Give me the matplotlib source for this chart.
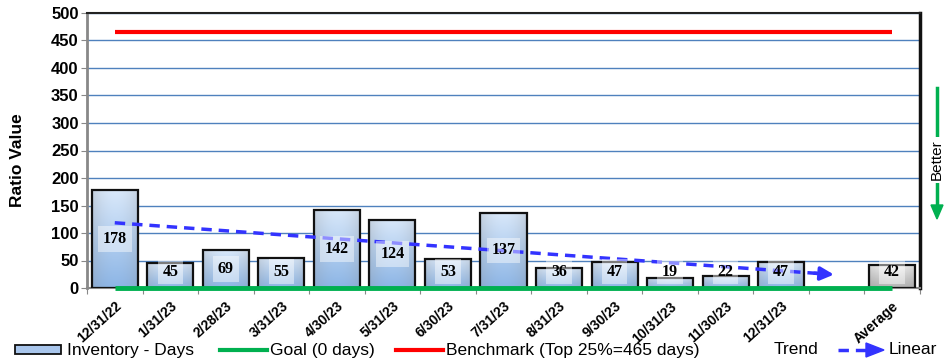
import numpy as np
import matplotlib.pyplot as plt
from matplotlib.patches import Rectangle
from matplotlib.lines import Line2D

# данные
dates = ['12/31/22', '1/31/23', '2/28/23', '3/31/23', '4/30/23', '5/31/23', '6/30/23',
         '7/31/23', '8/31/23', '9/30/23', '10/31/23', '11/30/23', '12/31/23']
days = [178, 45, 69, 55, 142, 124, 53, 137, 36, 47, 19, 22, 47]
average = 42
goal = 0
benchmark = 465
labels = dates + ['', 'Average']

plt.rcParams['font.family'] = ['Liberation Sans', 'DejaVu Sans']

fig = plt.figure(figsize=(9.51, 3.64), dpi=100)
fig.set_facecolor('white')
ax = fig.add_axes([87 / 951, 1 - 288 / 364, 833 / 951, 275 / 364])

x = np.arange(len(days))
x_avg = len(labels) - 1

ax.set_xlim(-0.5, len(labels) - 0.5)
ax.set_ylim(0, 500)
ax.set_yticks(np.arange(0, 501, 50))
ax.yaxis.grid(True, color='#4f81bd', lw=1.0)
ax.set_axisbelow(True)


def grad_bar(xc, h, top, bottom):
    bar = ax.bar(xc, h, width=0.83, color='none', edgecolor='#111111', lw=1.6, zorder=3)[0]
    g = np.linspace(0, 1, 64).reshape(-1, 1)
    c0 = np.array(top)
    c1 = np.array(bottom)
    img = c0 + (c1 - c0) * g
    # светлая середина по горизонтали
    hg = 1 - 0.25 * np.abs(np.linspace(-1, 1, 32)) ** 2
    img = img[:, None, :] * hg[None, :, None] + (1 - hg[None, :, None]) * 0.55
    im = ax.imshow(np.clip(img, 0, 1), extent=[xc - 0.415, xc + 0.415, 0, h],
                   origin='upper', aspect='auto', zorder=2.5)
    im.set_clip_path(bar)
    return bar


for xi, v in zip(x, days):
    grad_bar(xi, v, (0.85, 0.91, 0.98), (0.55, 0.71, 0.90))
grad_bar(x_avg, average, (0.95, 0.95, 0.95), (0.70, 0.70, 0.70))

vals_all = list(zip(x, days)) + [(x_avg, average)]
for xi, v in vals_all:
    ypos = max(v / 2, 30)
    ax.text(xi, ypos, str(v), ha='center', va='center', fontsize=11.5, fontweight='bold',
            family='Liberation Serif', zorder=6,
            bbox=dict(boxstyle='square,pad=0.3', fc='white', ec='none', alpha=0.45))

# цель и бенчмарк
ax.plot([0, x_avg], [benchmark, benchmark], color='#ff0000', lw=3, zorder=4, solid_capstyle='butt')
ax.plot([0, x_avg], [goal, goal], color='#00b050', lw=3.5, zorder=4, solid_capstyle='butt',
        clip_on=False)

# линейный тренд
k, b = np.polyfit(x, days, 1)
xt = np.array([0, len(days)])
yt = k * xt + b
ax.plot([xt[0], xt[1] - 0.35], [yt[0], k * (xt[1] - 0.35) + b], color='#3333ff', lw=2.5,
        ls=(0, (3, 2)), zorder=5)
ax.annotate('', xy=(xt[1], yt[1]), xytext=(xt[1] - 0.45, k * (xt[1] - 0.45) + b),
            arrowprops=dict(arrowstyle='-|>,head_length=0.8,head_width=0.4', color='#3333ff',
                            lw=2.5), zorder=5)

ax.set_xticks(np.arange(len(labels) + 1) - 0.5, minor=False)
ax.set_xticklabels([])
ax.set_xticks(np.arange(len(labels)), minor=True)
ax.set_xticklabels(labels, minor=True, rotation=42, ha='right', rotation_mode='anchor',
                   fontsize=10, fontweight='bold')
ax.tick_params(axis='x', which='minor', length=0, pad=8)
ax.tick_params(axis='x', which='major', length=4, color='#888888')
ax.tick_params(axis='y', length=4, color='#888888', labelsize=12, pad=2)
for t in ax.get_yticklabels():
    t.set_fontweight('bold')

ax.spines['left'].set_color('#888888')
ax.spines['left'].set_linewidth(2)
ax.spines['bottom'].set_color('#888888')
ax.spines['bottom'].set_linewidth(1.5)
ax.spines['top'].set_color('#222222')
ax.spines['top'].set_linewidth(1.5)
ax.spines['right'].set_color('#111111')
ax.spines['right'].set_linewidth(2.5)

ax.set_ylabel('Ratio Value', fontsize=12.5, fontweight='bold')
ax.yaxis.set_label_coords(-0.074, 0.465)

# стрелка "Better"
fig.add_artist(Line2D([937 / 951, 937 / 951], [1 - 88 / 364, 1 - 210 / 364], color='#00b050', lw=2.5))
fig.add_artist(plt.Polygon([[931 / 951, 1 - 205 / 364], [943 / 951, 1 - 205 / 364],
                            [937 / 951, 1 - 219 / 364]], color='#00b050'))
fig.text(937 / 951, 1 - 160 / 364, 'Better', rotation=90, ha='center', va='center', fontsize=11,
         bbox=dict(boxstyle='square,pad=0.2', fc='white', ec='none'))

# легенда
ly = 1 - 350 / 364
fs = 12.5
patch = Rectangle((15 / 951, ly - 4 / 364), 46 / 951, 9 / 364, transform=fig.transFigure,
                  fc='#a9c6ec', ec='#111111', lw=1.3)
fig.add_artist(patch)
fig.text(67 / 951, ly, 'Inventory - Days', va='center', fontsize=fs)
fig.add_artist(Line2D([220 / 951, 267 / 951], [ly, ly], color='#00b050', lw=3))
fig.text(270 / 951, ly, 'Goal (0 days)', va='center', fontsize=fs)
fig.add_artist(Line2D([396 / 951, 443 / 951], [ly, ly], color='#ff0000', lw=3))
fig.text(446 / 951, ly, 'Benchmark (Top 25%=465 days)', va='center', fontsize=fs)
fig.text(774 / 951, ly, 'Trend', va='center', fontsize=fs)
fig.add_artist(Line2D([838 / 951, 868 / 951], [ly, ly], color='#3333ff', lw=2.5, ls=(0, (3, 2))))
fig.add_artist(plt.Polygon([[866 / 951, ly + 7 / 364], [884 / 951, ly], [866 / 951, ly - 7 / 364]],
                           color='#3333ff'))
fig.text(889 / 951, ly, 'Linear', va='center', fontsize=fs)

fig.savefig('out.png', dpi=100)
